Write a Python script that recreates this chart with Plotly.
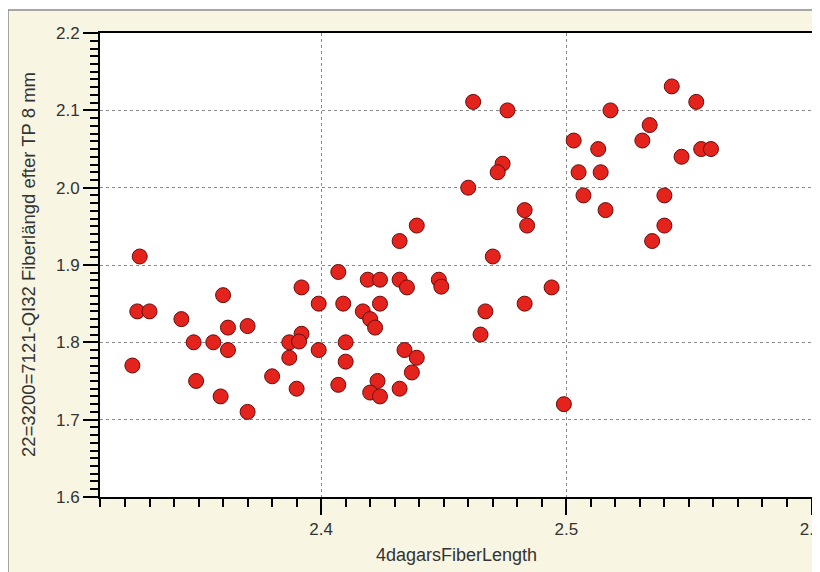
import plotly.graph_objects as go

# Data
fiber_length_4d = [
    2.323, 2.326, 2.325, 2.330, 2.343, 2.348, 2.349, 2.356, 2.360, 2.359,
    2.362, 2.362, 2.370, 2.370, 2.380, 2.387, 2.387, 2.390, 2.392, 2.391,
    2.392, 2.399, 2.399, 2.407, 2.407, 2.409, 2.410, 2.410, 2.419, 2.424,
    2.417, 2.420, 2.422, 2.424, 2.423, 2.420, 2.424, 2.432, 2.435, 2.432,
    2.439, 2.434, 2.432, 2.439, 2.437, 2.448, 2.449,
    2.462, 2.476, 2.474, 2.472, 2.460, 2.483, 2.484, 2.470, 2.494, 2.467,
    2.483, 2.465, 2.499,
    2.503, 2.513, 2.505, 2.514, 2.507, 2.516, 2.518, 2.543, 2.553, 2.534,
    2.531, 2.555, 2.559, 2.547, 2.540, 2.540, 2.535,
]
fiber_length_tp8 = [
    1.770, 1.911, 1.840, 1.840, 1.830, 1.800, 1.750, 1.800, 1.861, 1.730,
    1.819, 1.790, 1.821, 1.710, 1.756, 1.800, 1.780, 1.740, 1.811, 1.801,
    1.871, 1.790, 1.850, 1.891, 1.745, 1.850, 1.800, 1.775, 1.881, 1.881,
    1.840, 1.830, 1.819, 1.850, 1.750, 1.735, 1.730, 1.881, 1.871, 1.931,
    1.951, 1.790, 1.740, 1.780, 1.761, 1.881, 1.872,
    2.111, 2.100, 2.031, 2.020, 2.000, 1.971, 1.951, 1.911, 1.871, 1.840,
    1.850, 1.810, 1.720,
    2.061, 2.050, 2.020, 2.020, 1.990, 1.971, 2.100, 2.131, 2.111, 2.081,
    2.061, 2.050, 2.050, 2.040, 1.990, 1.951, 1.931,
]

x_major_ticks = [2.4, 2.5, 2.6]
x_major_labels = ["2.4", "2.5", "2.6"]
x_mid_ticks = [2.35, 2.45, 2.55]
y_major_ticks = [1.6, 1.7, 1.8, 1.9, 2.0, 2.1, 2.2]
y_major_labels = ["1.6", "1.7", "1.8", "1.9", "2.0", "2.1", "2.2"]
y_mid_ticks = [1.65, 1.75, 1.85, 1.95, 2.05, 2.15]

x_range = [2.3098, 2.6002]
y_range = [1.5999, 2.2001]

x_title = "4dagarsFiberLength"
y_title = "22=3200=7121-QI32 Fiberlängd efter TP 8 mm"

FONT = "Liberation Sans, Arial, sans-serif"
TXT = "#333333"

fig = go.Figure()
fig.add_trace(go.Scatter(
    x=fiber_length_4d, y=fiber_length_tp8, mode="markers",
    marker=dict(size=15, color="#e3231c", line=dict(color="#6a0c0c", width=1)),
    showlegend=False, hoverinfo="x+y",
))

axis_common = dict(
    showline=True, linecolor="black", linewidth=2, mirror=True,
    ticks="outside", tickcolor="black", tickwidth=1.5,
    showgrid=True, gridcolor="#8a8a8a", gridwidth=1, griddash="dot",
    zeroline=False, automargin=False, ticklabeloverflow="allow",
    tickfont=dict(family=FONT, size=17, color=TXT),
)

# The page body adds an 8px offset, so the figure is 812x564.
fig.update_layout(
    width=812, height=564,
    margin=dict(l=92, r=8, t=25, b=75),
    paper_bgcolor="white", plot_bgcolor="white",
    font=dict(family=FONT, color=TXT),
    xaxis=dict(
        axis_common, range=x_range, tickmode="array",
        tickvals=x_major_ticks, ticktext=x_major_labels, ticklen=16,
        minor=dict(dtick=0.01, tick0=2.4, ticklen=8, ticks="outside",
                   tickcolor="black", tickwidth=1.5, showgrid=False),
    ),
    yaxis=dict(
        axis_common, range=y_range, tickmode="array",
        tickvals=y_major_ticks, ticktext=y_major_labels, ticklen=15,
        minor=dict(dtick=0.01, tick0=1.6, ticklen=8, ticks="outside",
                   tickcolor="black", tickwidth=1.5, showgrid=False),
    ),
    xaxis2=dict(
        overlaying="x", anchor="y", side="bottom", range=x_range,
        tickmode="array", tickvals=x_mid_ticks, ticks="outside", ticklen=12,
        tickcolor="black", tickwidth=1.5, showticklabels=False,
        showgrid=False, showline=False, zeroline=False, automargin=False,
    ),
    yaxis2=dict(
        overlaying="y", anchor="x", side="left", range=y_range,
        tickmode="array", tickvals=y_mid_ticks, ticks="outside", ticklen=11,
        tickcolor="black", tickwidth=1.5, showticklabels=False,
        showgrid=False, showline=False, zeroline=False, automargin=False,
    ),
    annotations=[
        dict(text=x_title, xref="paper", yref="paper", x=0.5, y=-0.125,
             xanchor="center", yanchor="middle", showarrow=False,
             font=dict(family=FONT, size=18, color=TXT)),
        dict(text=y_title, xref="paper", yref="paper", x=-0.1011, y=0.5,
             xanchor="center", yanchor="middle", showarrow=False,
             textangle=-90, font=dict(family=FONT, size=18.5, color=TXT)),
    ],
    shapes=[
        dict(type="rect", xref="paper", yref="paper", layer="below",
             x0=-0.1292, x1=1.03, y0=-0.2, y1=1.0496,
             fillcolor="#f8f6e3", line=dict(color="#8c8c8c", width=1.5)),
        dict(type="rect", xref="paper", yref="paper", layer="below",
             x0=0, x1=1, y0=0, y1=1,
             fillcolor="white", line=dict(width=0)),
    ],
)

fig.write_html("out.html")
